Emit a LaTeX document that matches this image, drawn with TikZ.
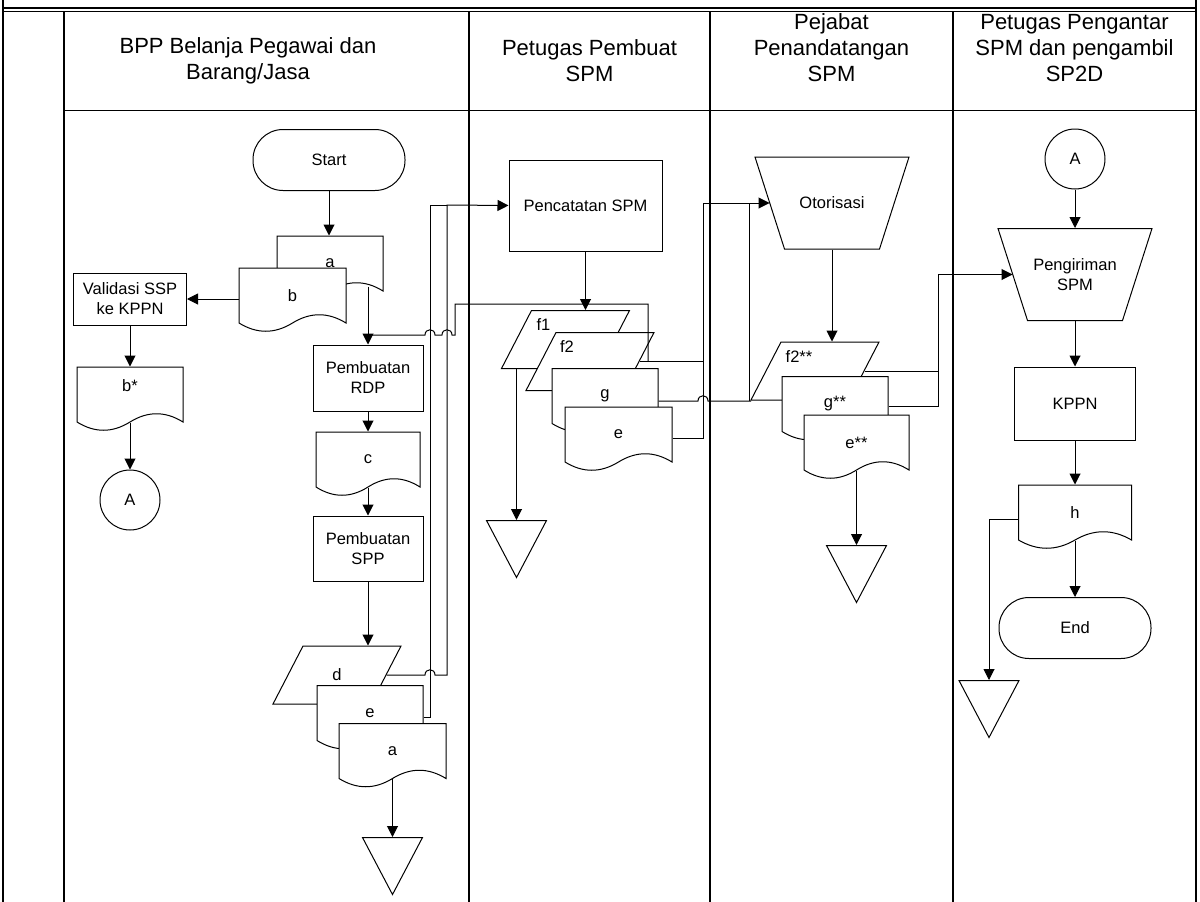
\documentclass[tikz,border=0pt]{standalone}
\usepackage{fontspec}
\setmainfont{Liberation Sans}
\usetikzlibrary{arrows.meta,calc,positioning}

% document symbol: [width]{name}{centre}{text}
\newcommand{\docshape}[4][106]{%
  \filldraw[fill=white, shift={#3}]
    (-#1/2,-27.5) -- (#1/2,-27.5) -- (#1/2,27.5)
    .. controls (#1/3,16.5) and (#1/6,16.5) .. (0,27.5)
    .. controls (-#1/6,38.5) and (-#1/3,38.5) .. (-#1/2,27.5) -- cycle;
  \node[docbox, minimum width=#1pt] (#2) at #3 {#4};
}
% data symbol: {name}{centre}{text}
\newcommand{\datashape}[3]{%
  \filldraw[fill=white, shift={#2}] (-34,-29) -- (64,-29) -- (34,29) -- (-64,29) -- cycle;
  \node[databox] (#1) at #2 {#3};
}
% manual operation: {name}{centre}{text}
\newcommand{\manop}[3]{%
  \filldraw[fill=white, shift={#2}] (-77,-46) -- (77,-46) -- (47.5,46) -- (-47.5,46) -- cycle;
  \node[manbox] (#1) at #2 {#3};
}
% off-page storage: {name}{centre}
\newcommand{\offpage}[2]{%
  \filldraw[fill=white, shift={#2}] (-30,-28.5) -- (30,-28.5) -- (0,28.5) -- cycle;
  \node[tribox] (#1) at #2 {};
}
\newcommand{\offtext}[3]{\raisebox{#2}[\height][\depth]{\makebox[0pt]{\hspace*{#1}\hspace*{#1}#3}}}

\begin{document}
\begin{tikzpicture}[x=1pt, y=-1pt, line width=1pt, >={Triangle[length=11pt,width=11pt]},
  font=\fontsize{16.5}{20}\selectfont]
  \tikzstyle{proc}=[rectangle, draw, fill=white, inner sep=0pt, align=center]
  \tikzstyle{terminal}=[rectangle, draw, fill=white, rounded corners=30pt, minimum width=152pt, minimum height=61pt]
  \tikzstyle{conn}=[circle, draw, fill=white, minimum size=60pt, inner sep=0pt]
  \tikzstyle{docbox}=[rectangle, inner sep=0pt, minimum height=55pt]
  \tikzstyle{databox}=[rectangle, inner sep=0pt, minimum width=128pt, minimum height=58pt]
  \tikzstyle{manbox}=[rectangle, inner sep=0pt, minimum width=154pt, minimum height=92pt, align=center]
  \tikzstyle{tribox}=[rectangle, inner sep=0pt, minimum width=60pt, minimum height=57pt]
  \tikzstyle{hdr}=[align=center, font=\fontsize{22}{26}\selectfont]
  \tikzstyle{lane}=[line width=1.6pt]

  \fill[white] (0,0) rectangle (1200,902);
  \useasboundingbox (0,0) rectangle (1200,902);

  % frame and lanes
  \draw[lane] (3,0) -- (3,902);
  \draw[lane] (1196,0) -- (1196,902);
  \draw[lane] (3,8) -- (1196,8);
  \draw (3,11) -- (1196,11);
  \draw[lane] (64,11) -- (64,902);
  \draw (64,110) -- (1196,110);
  \draw[lane] (469,11) -- (469,902);
  \draw[lane] (710,11) -- (710,902);
  \draw[lane] (953,11) -- (953,902);

  \node[hdr] (h1) at (248,61) {BPP Belanja Pegawai dan\\Barang/Jasa};
  \node[hdr] (h2) at (589.5,61) {Petugas Pembuat\\SPM};
  \node[hdr] (h3) at (831.5,48) {Pejabat\\Penandatangan\\SPM};
  \node[hdr] (h4) at (1074.5,48) {Petugas Pengantar\\SPM dan pengambil\\SP2D};

  % BPP
  \node[terminal] (start) at (329,160) {Start};
  \docshape{a1}{(330,263.5)}{a}
  \docshape[107]{b}{(292.5,295.5)}{b}
  \node[proc, minimum width=113pt, minimum height=52pt] (val) at (130,299) {Validasi SSP\\ke KPPN};
  \docshape{bs}{(130,394.5)}{\offtext{0pt}{9pt}{b*}}
  \node[conn] (A1) at (130,500) {A};
  \node[proc, minimum width=110pt, minimum height=66pt] (rdp) at (368,378) {Pembuatan\\RDP};
  \docshape[104]{c}{(368,459.5)}{c}
  \node[proc, minimum width=110pt, minimum height=65pt] (spp) at (368,548.5) {Pembuatan\\SPP};
  \datashape{d}{(337,675)}{d}
  \docshape{e1}{(370,713)}{e}
  \docshape[107]{a2}{(392.5,751)}{a}
  \offpage{t1}{(392.5,866)}

  % Petugas Pembuat SPM
  \node[proc, minimum width=153pt, minimum height=91pt] (pcat) at (585.5,205.5) {Pencatatan SPM};
  \datashape{f1}{(565.5,339.5)}{\offtext{-22pt}{15pt}{f1}}
  \datashape{f2}{(590,361.5)}{\offtext{-23pt}{15pt}{f2}}
  \docshape{g}{(605,396)}{g}
  \docshape[107]{e2}{(618.5,434.5)}{e}
  \offpage{t2}{(516.5,549)}

  % Pejabat Penandatangan SPM
  \manop{oto}{(832,203)}{Otorisasi}
  \datashape{f2ss}{(815,371)}{\offtext{-16pt}{14pt}{f2**}}
  \docshape{gss}{(835,404)}{g**}
  \docshape[105]{ess}{(856.5,442.5)}{e**}
  \offpage{t3}{(856.5,574)}

  % Petugas Pengantar SPM
  \node[conn] (A2) at (1075,159) {A};
  \manop{png}{(1075,274.5)}{Pengiriman\\SPM}
  \node[proc, minimum width=121pt, minimum height=73pt] (kppn) at (1075,403.5) {KPPN};
  \docshape[113]{h}{(1075,512.5)}{h}
  \node[terminal] (end) at (1075,628) {End};
  \offpage{t4}{(989,709)}

  % flow BPP
  \draw[->] (start.south) -- (start.south |- a1.north);
  \draw[->] ($(rdp.north |- a1.south)+(0,-5)$) -- (rdp.north);
  \draw[->] (b.west |- val.east) -- (val.east);
  \draw[->] (val.south) -- (bs.north);
  \draw[->] (bs.south) -- (A1.north);
  \draw[->] (rdp.south) -- (c.north);
  \draw[->] (c.south) -- (spp.north);
  \draw[->] (spp.south) -- (spp.south |- d.north);
  \draw[->] (a2.south) -- (t1.north);
  \draw[->] ($(d.east)+(-15,0)$) -- (425,675) .. controls (425,668) and (435,668) .. (435,675)
    -- (447,675) -- (447,205) -- (pcat.west);
  \draw ($(e1.east)+(0,4)$) -- (430,717) -- (430,205) -- (447,205);
  \draw (648,361.5) -- (648,304) -- (455,304) -- (455,335) -- (452,335)
    .. controls (452,328) and (442,328) .. (442,335) -- (435,335)
    .. controls (435,328) and (425,328) .. (425,335) -- (rdp.north |- 0,335);

  % flow Petugas Pembuat SPM
  \draw[->] (pcat.south) -- (pcat.south |- f1.north);
  \draw[->] (t2.north |- f1.south) -- (t2.north);
  \draw[->] ($(f2.east)+(-15,0)$) -- (703,361.5) -- (703,203) -- ($(oto.west)+(15,0)$);
  \draw ($(e2.east)+(0,3.5)$) -- (703,438) -- (703,361.5);
  \draw ($(g.east)+(0,5)$) -- (698,401) .. controls (698,394) and (708,394) .. (708,401)
    -- (751,401);
  \draw (749,401) -- (749,203);

  % flow Pejabat Penandatangan SPM
  \draw[->] (oto.south) -- (oto.south |- f2ss.north);
  \draw[->] (ess.south) -- (t3.north);
  \draw[->] ($(f2ss.east)+(-15,0)$) -- (938,371) -- (938,274.5) -- ($(png.west)+(15,0)$);
  \draw ($(gss.east)+(0,2)$) -- (938,406) -- (938,371);

  % flow Petugas Pengantar SPM
  \draw[->] (A2.south) -- (png.north);
  \draw[->] (png.south) -- (kppn.north);
  \draw[->] (kppn.south) -- (h.north);
  \draw[->] (h.south) -- (end.north);
  \draw[->] ($(h.west)+(0,6.5)$) -- ($(t4.north |- h.west)+(0,6.5)$) -- (t4.north);
\end{tikzpicture}
\end{document}
